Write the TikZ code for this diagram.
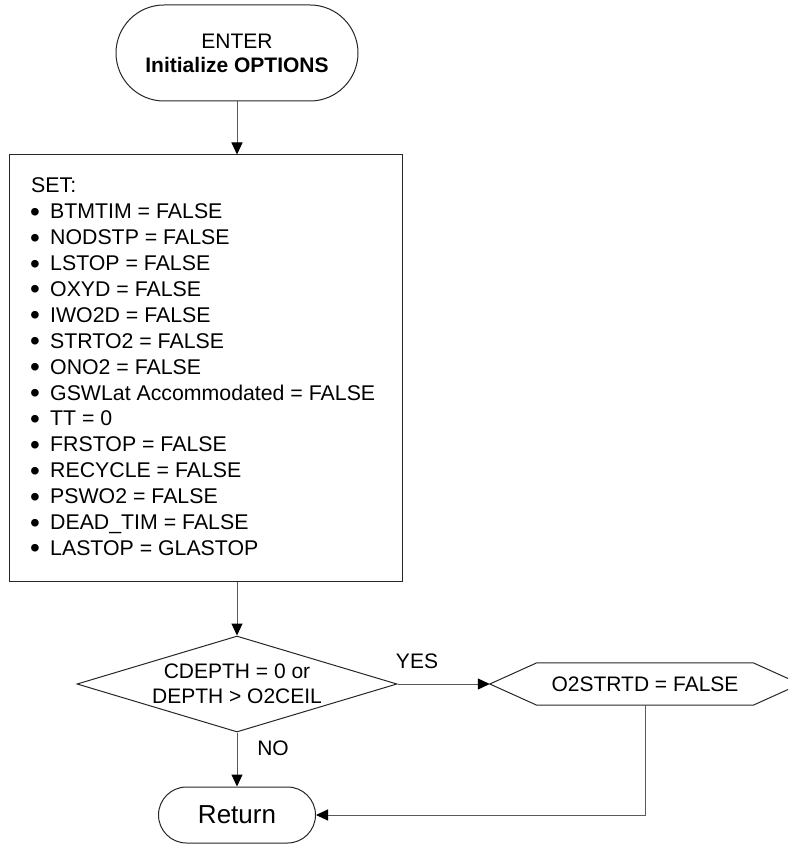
\documentclass[tikz,border=0pt]{standalone}
\usepackage{fontspec}
\setmainfont{Liberation Sans}
\usetikzlibrary{arrows.meta,shapes.geometric}
\newcommand{\bul}{\makebox[19pt][l]{\hspace{-1pt}\raisebox{-2.5pt}{\fontsize{28}{0}\selectfont •}}}
\begin{document}
\begin{tikzpicture}[x=1pt,y=-1pt,
  shapeline/.style={draw=black!85, line width=1pt},
  termbox/.style={shapeline, rounded corners=#1, inner sep=0pt},
  conn/.style={draw=black!65, line width=1pt, -{Triangle[length=12pt,width=11pt,color=black]}},
  txt/.style={font=\fontsize{21}{24}\selectfont, text=black, inner sep=0pt}
]
\useasboundingbox (0,0) rectangle (788,845);
\clip (0,0) rectangle (788,845);

% start terminal
\node[termbox=48pt, minimum width=242pt, minimum height=96pt, txt, align=center] (enter) at (237,53) {ENTER\\\textbf{Initialize OPTIONS}};

% process box
\node[shapeline, minimum width=393pt, minimum height=426pt, inner sep=0pt] (setbox) at (205.5,368) {};
\node[txt, font=\fontsize{21.3}{25.9}\selectfont, align=left, anchor=west] (setlist) at (31,368) {%
SET:\\
\bul BTMTIM = FALSE\\
\bul NODSTP = FALSE\\
\bul LSTOP = FALSE\\
\bul OXYD = FALSE\\
\bul IWO2D = FALSE\\
\bul STRTO2 = FALSE\\
\bul ONO2 = FALSE\\
\bul GSWLat Accommodated = FALSE\\
\bul TT = 0\\
\bul FRSTOP = FALSE\\
\bul RECYCLE = FALSE\\
\bul PSWO2 = FALSE\\
\bul DEAD\_TIM = FALSE\\
\bul LASTOP = GLASTOP};

% decision
\node[shape=diamond, shapeline, minimum width=320pt, minimum height=96pt, inner sep=0pt] (dec) at (237,684) {};
\node[txt, font=\fontsize{21}{25}\selectfont, align=center] (dectext) at (dec.center) {CDEPTH = 0 or\\DEPTH > O2CEIL};

% hexagon
\node[txt, minimum width=310pt, minimum height=42pt] (hex) at (645,684) {O2STRTD = FALSE};
\draw[shapeline] (hex.west) -- ([xshift=47pt]hex.north west) -- ([xshift=-47pt]hex.north east)
  -- (hex.east) -- ([xshift=-47pt]hex.south east) -- ([xshift=47pt]hex.south west) -- cycle;

% return terminal
\node[termbox=28pt, minimum width=157pt, minimum height=56pt, txt, font=\fontsize{26}{30}\selectfont] (ret) at (237,815) {Return};

% labels
\node[txt] (yes) at (417,661) {YES};
\node[txt] (no) at (273,748) {NO};

% connectors
\draw[conn] (enter.south) -- (enter.south |- setbox.north);
\draw[conn] (setbox.south -| dec.north) -- (dec.north);
\draw[conn] (dec.east) -- (hex.west);
\draw[conn] (dec.south) -- (ret.north);
\draw[conn] (hex.south) |- (ret.east);
\end{tikzpicture}
\end{document}
